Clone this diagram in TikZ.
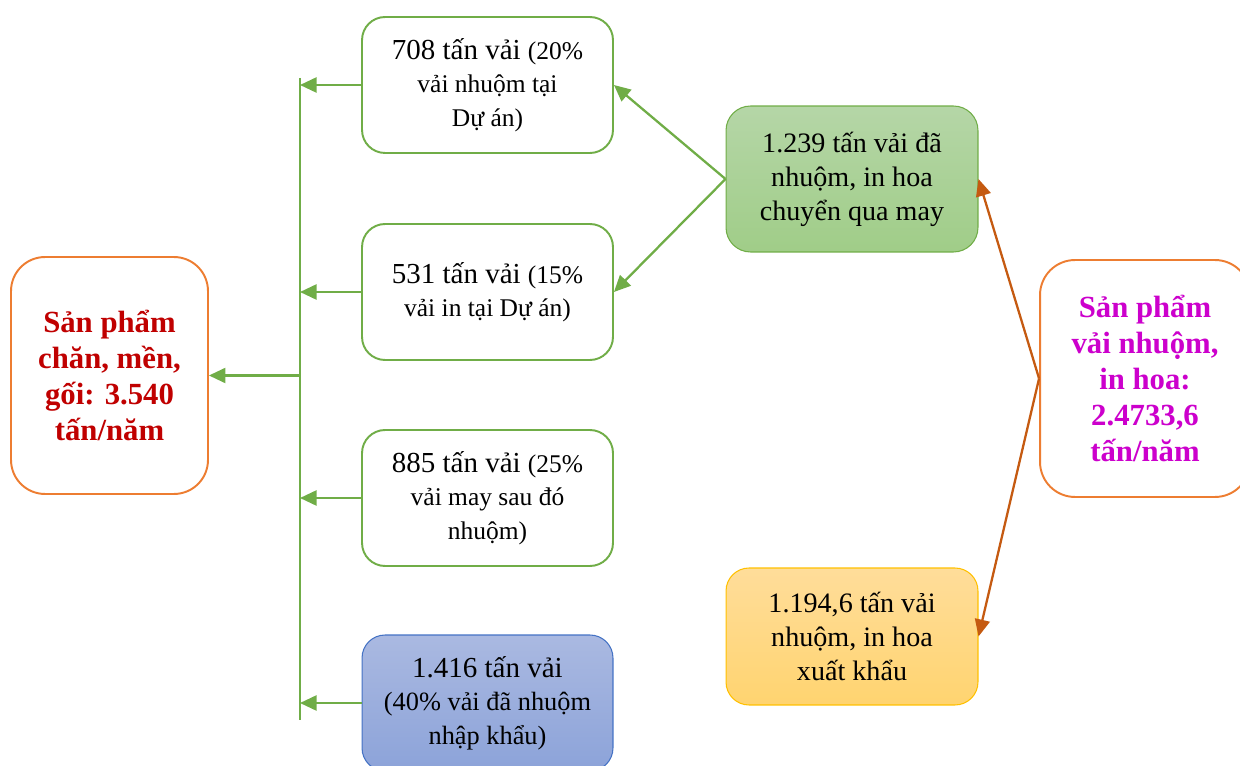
\documentclass[tikz,border=0pt]{standalone}
\usepackage{fontspec}
\setmainfont{Liberation Serif}
\usetikzlibrary{arrows.meta}

\definecolor{lineGreen}{HTML}{70AD47}
\definecolor{lineOrange}{HTML}{ED7D31}
\definecolor{lineBlue}{HTML}{4472C4}
\definecolor{arrowOrange}{HTML}{C55A11}
\definecolor{textRed}{HTML}{C00000}
\definecolor{textMagenta}{HTML}{CC00CC}

\newcommand\mainsz{\fontsize{16.5}{19}\selectfont}
\newcommand\subsz{\fontsize{14.5}{19}\selectfont}

\begin{document}
\begin{tikzpicture}[x=0.02cm, y=-0.02cm]
  \def\boxw{5.02cm}
  \def\boxh{2.72cm}
  \tikzstyle{fabric} = [rectangle, rounded corners=0.46cm, draw=lineGreen, line width=1.1pt, fill=white, align=center, minimum width=\boxw, minimum height=\boxh, inner sep=2pt]
  \tikzstyle{total} = [rectangle, rounded corners=0.68cm, draw=lineOrange, line width=1.1pt, fill=white, align=center, minimum width=3.94cm, minimum height=4.74cm, font=\fontsize{17.5}{20.5}\selectfont\bfseries]
  \tikzstyle{flow} = [draw=lineGreen, line width=1.3pt, -{Triangle[length=0.33cm, width=0.3cm]}]
  \tikzstyle{split} = [draw=arrowOrange, line width=1.3pt, -{Triangle[length=0.34cm, width=0.3cm]}]

  \useasboundingbox (0,0) rectangle (1240,766);

  % san pham cuoi
  \node[total, text=textRed] (blanket) at (109.5,375.5) {Sản phẩm\\chăn, mền,\\gối: 3.540\\tấn/năm};

  % cac nguon vai
  \node[fabric, font=\mainsz] (dyed) at (487.5,85) {708 tấn vải {\subsz(20\%}\\\subsz vải nhuộm tại\\\subsz Dự án)};
  \node[fabric, font=\mainsz] (printed) at (487.5,292) {531 tấn vải {\subsz(15\%}\\\subsz vải in tại Dự án)};
  \node[fabric, font=\mainsz] (sewn) at (487.5,498) {885 tấn vải {\subsz(25\%}\\\subsz vải may sau đó\\\subsz nhuộm)};
  \node[fabric, draw=lineBlue, line width=0.6pt, top color={rgb,255:red,170;green,185;blue,225}, bottom color={rgb,255:red,140;green,163;blue,217}, font=\mainsz] (imported) at (487.5,703) {1.416 tấn vải\\{\fontsize{15}{19}\selectfont(40\% vải đã nhuộm}\\{\fontsize{15}{19}\selectfont nhập khẩu)}};

  \node[fabric, line width=0.6pt, minimum width=5.04cm, minimum height=2.92cm, rounded corners=0.49cm, top color={rgb,255:red,181;green,214;blue,167}, bottom color={rgb,255:red,160;green,205;blue,136}, font=\fontsize{16}{19.3}\selectfont] (sewing) at (852,179) {1.239 tấn vải đã\\nhuộm, in hoa\\chuyển qua may};
  \node[fabric, draw={rgb,255:red,255;green,192;blue,0}, line width=0.6pt, minimum width=5.04cm, minimum height=2.74cm, top color={rgb,255:red,255;green,221;blue,154}, bottom color={rgb,255:red,255;green,212;blue,112}, font=\fontsize{16}{19.3}\selectfont] (export) at (852,636.5) {1.194,6 tấn vải\\nhuộm, in hoa\\xuất khẩu};

  \node[total, text=textMagenta, minimum width=4.2cm, rounded corners=0.7cm] (fabricTotal) at (1145,378.5) {Sản phẩm\\vải nhuộm,\\in hoa:\\2.4733,6\\tấn/năm};

  \coordinate (busTop) at (300,78);
  \coordinate (busMid) at (300,375.5);
  \coordinate (busBot) at (300,720);

  \draw[draw=lineGreen, line width=1.2pt] (busTop) -- (busBot);
  \draw[flow] (busMid) -- (blanket.east);
  \draw[flow] (dyed.west) -- (dyed.west -| busTop);
  \draw[flow] (printed.west) -- (printed.west -| busTop);
  \draw[flow] (sewn.west) -- (sewn.west -| busTop);
  \draw[flow] (imported.west) -- (imported.west -| busTop);

  \draw[flow] (sewing.west) -- (dyed.east);
  \draw[flow] (sewing.west) -- (printed.east);

  \draw[split] (fabricTotal.west) -- (sewing.east);
  \draw[split] (fabricTotal.west) -- (export.east);

\end{tikzpicture}
\end{document}
